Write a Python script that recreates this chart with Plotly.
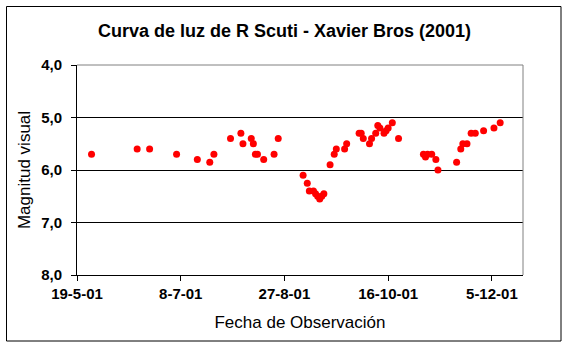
import plotly.graph_objects as go

# ---- data ----
fechas = [
    "2001-05-26", "2001-06-17", "2001-06-23", "2001-07-06", "2001-07-16",
    "2001-07-22", "2001-07-24", "2001-08-01", "2001-08-06", "2001-08-07",
    "2001-08-11", "2001-08-12", "2001-08-13", "2001-08-14", "2001-08-17",
    "2001-08-22", "2001-08-24", "2001-09-05", "2001-09-07", "2001-09-08",
    "2001-09-10", "2001-09-11", "2001-09-12", "2001-09-13", "2001-09-14",
    "2001-09-15", "2001-09-18", "2001-09-20", "2001-09-21", "2001-09-25",
    "2001-09-26", "2001-10-02", "2001-10-03", "2001-10-04", "2001-10-07",
    "2001-10-08", "2001-10-10", "2001-10-11", "2001-10-12", "2001-10-14",
    "2001-10-15", "2001-10-16", "2001-10-18", "2001-10-21", "2001-11-02",
    "2001-11-03", "2001-11-04", "2001-11-06", "2001-11-08", "2001-11-09",
    "2001-11-18", "2001-11-20", "2001-11-21", "2001-11-23", "2001-11-25",
    "2001-11-27", "2001-12-01", "2001-12-06", "2001-12-09",
]
magnitudes = [
    5.7, 5.6, 5.6, 5.7, 5.8,
    5.85, 5.7, 5.4, 5.3, 5.5,
    5.4, 5.5, 5.7, 5.7, 5.8,
    5.7, 5.4, 6.1, 6.25, 6.4,
    6.4, 6.45, 6.5, 6.55, 6.5,
    6.45, 5.9, 5.7, 5.6, 5.6,
    5.5, 5.3, 5.3, 5.4, 5.5,
    5.4, 5.3, 5.15, 5.2, 5.3,
    5.25, 5.2, 5.1, 5.4, 5.7,
    5.75, 5.7, 5.7, 5.8, 6.0,
    5.85, 5.6, 5.5, 5.5, 5.3,
    5.3, 5.25, 5.2, 5.1,
]
x_tick_vals = ["2001-05-19", "2001-07-08", "2001-08-27", "2001-10-16", "2001-12-05"]
x_tick_text = ["19-5-01", "8-7-01", "27-8-01", "16-10-01", "5-12-01"]
y_tick_vals = [4, 5, 6, 7, 8]
y_tick_text = ["4,0", "5,0", "6,0", "7,0", "8,0"]
x_range = ["2001-05-19", "2001-12-20"]
y_range = [8, 4]

titulo = "Curva de luz de R Scuti - Xavier Bros (2001)"
titulo_x = "Fecha de Observación"
titulo_y = "Magnitud visual"

# ---- layout geometry (pixels) ----
W, H = 569, 349
L, R, T, B = 77, 523, 65, 275
pw, ph = R - L, B - T

def px_x(p):
    return (p - L) / pw

def px_y(p):
    return (B - p) / ph

FONT = "Liberation Sans, Arial, sans-serif"

fig = go.Figure()
fig.add_trace(go.Scatter(
    x=fechas, y=magnitudes, mode="markers",
    marker=dict(color="#FF0000", size=7, line=dict(width=0)),
    showlegend=False, cliponaxis=False,
))

fig.update_layout(
    width=W, height=H,
    margin=dict(l=L, r=W - R, t=T, b=H - B, pad=0),
    paper_bgcolor="white", plot_bgcolor="white",
    font=dict(family=FONT, color="black", size=14),
    title=dict(text="<b>" + titulo + "</b>", x=0.5, xanchor="center",
               xref="container", y=1 - 31 / H, yanchor="middle",
               font=dict(size=18, family=FONT)),
    xaxis=dict(
        type="date", range=x_range,
        tickvals=x_tick_vals, ticktext=x_tick_text,
        showgrid=False, zeroline=False,
        showline=True, linecolor="black", linewidth=1,
        ticks="outside", ticklen=5, tickcolor="black", tickwidth=1,
        tickfont=dict(size=15, family=FONT, weight="bold"),
        title=dict(text=titulo_x, font=dict(size=17, family=FONT), standoff=15),
    ),
    yaxis=dict(
        range=y_range, tickvals=y_tick_vals, ticktext=y_tick_text,
        showgrid=True, gridcolor="black", gridwidth=1, zeroline=False,
        showline=True, linecolor="black", linewidth=1,
        ticks="outside", ticklen=5, tickcolor="black", tickwidth=1,
        ticklabelstandoff=6,
        tickfont=dict(size=15, family=FONT, weight="bold"),
        title=dict(text=titulo_y, font=dict(size=17, family=FONT), standoff=6),
    ),
    shapes=[
        # gray plot-area border (top and right)
        dict(type="line", xref="paper", yref="paper", x0=0, x1=1, y0=1, y1=1,
             line=dict(color="#808080", width=1), layer="above"),
        dict(type="line", xref="paper", yref="paper", x0=1, x1=1, y0=0, y1=1,
             line=dict(color="#808080", width=1), layer="above"),
        # outer chart border
        dict(type="rect", xref="paper", yref="paper",
             x0=px_x(6.5), x1=px_x(561), y0=px_y(341), y1=px_y(6.5),
             line=dict(color="black", width=1), fillcolor="rgba(0,0,0,0)",
             layer="above"),
    ],
)

fig.write_html("out.html")
